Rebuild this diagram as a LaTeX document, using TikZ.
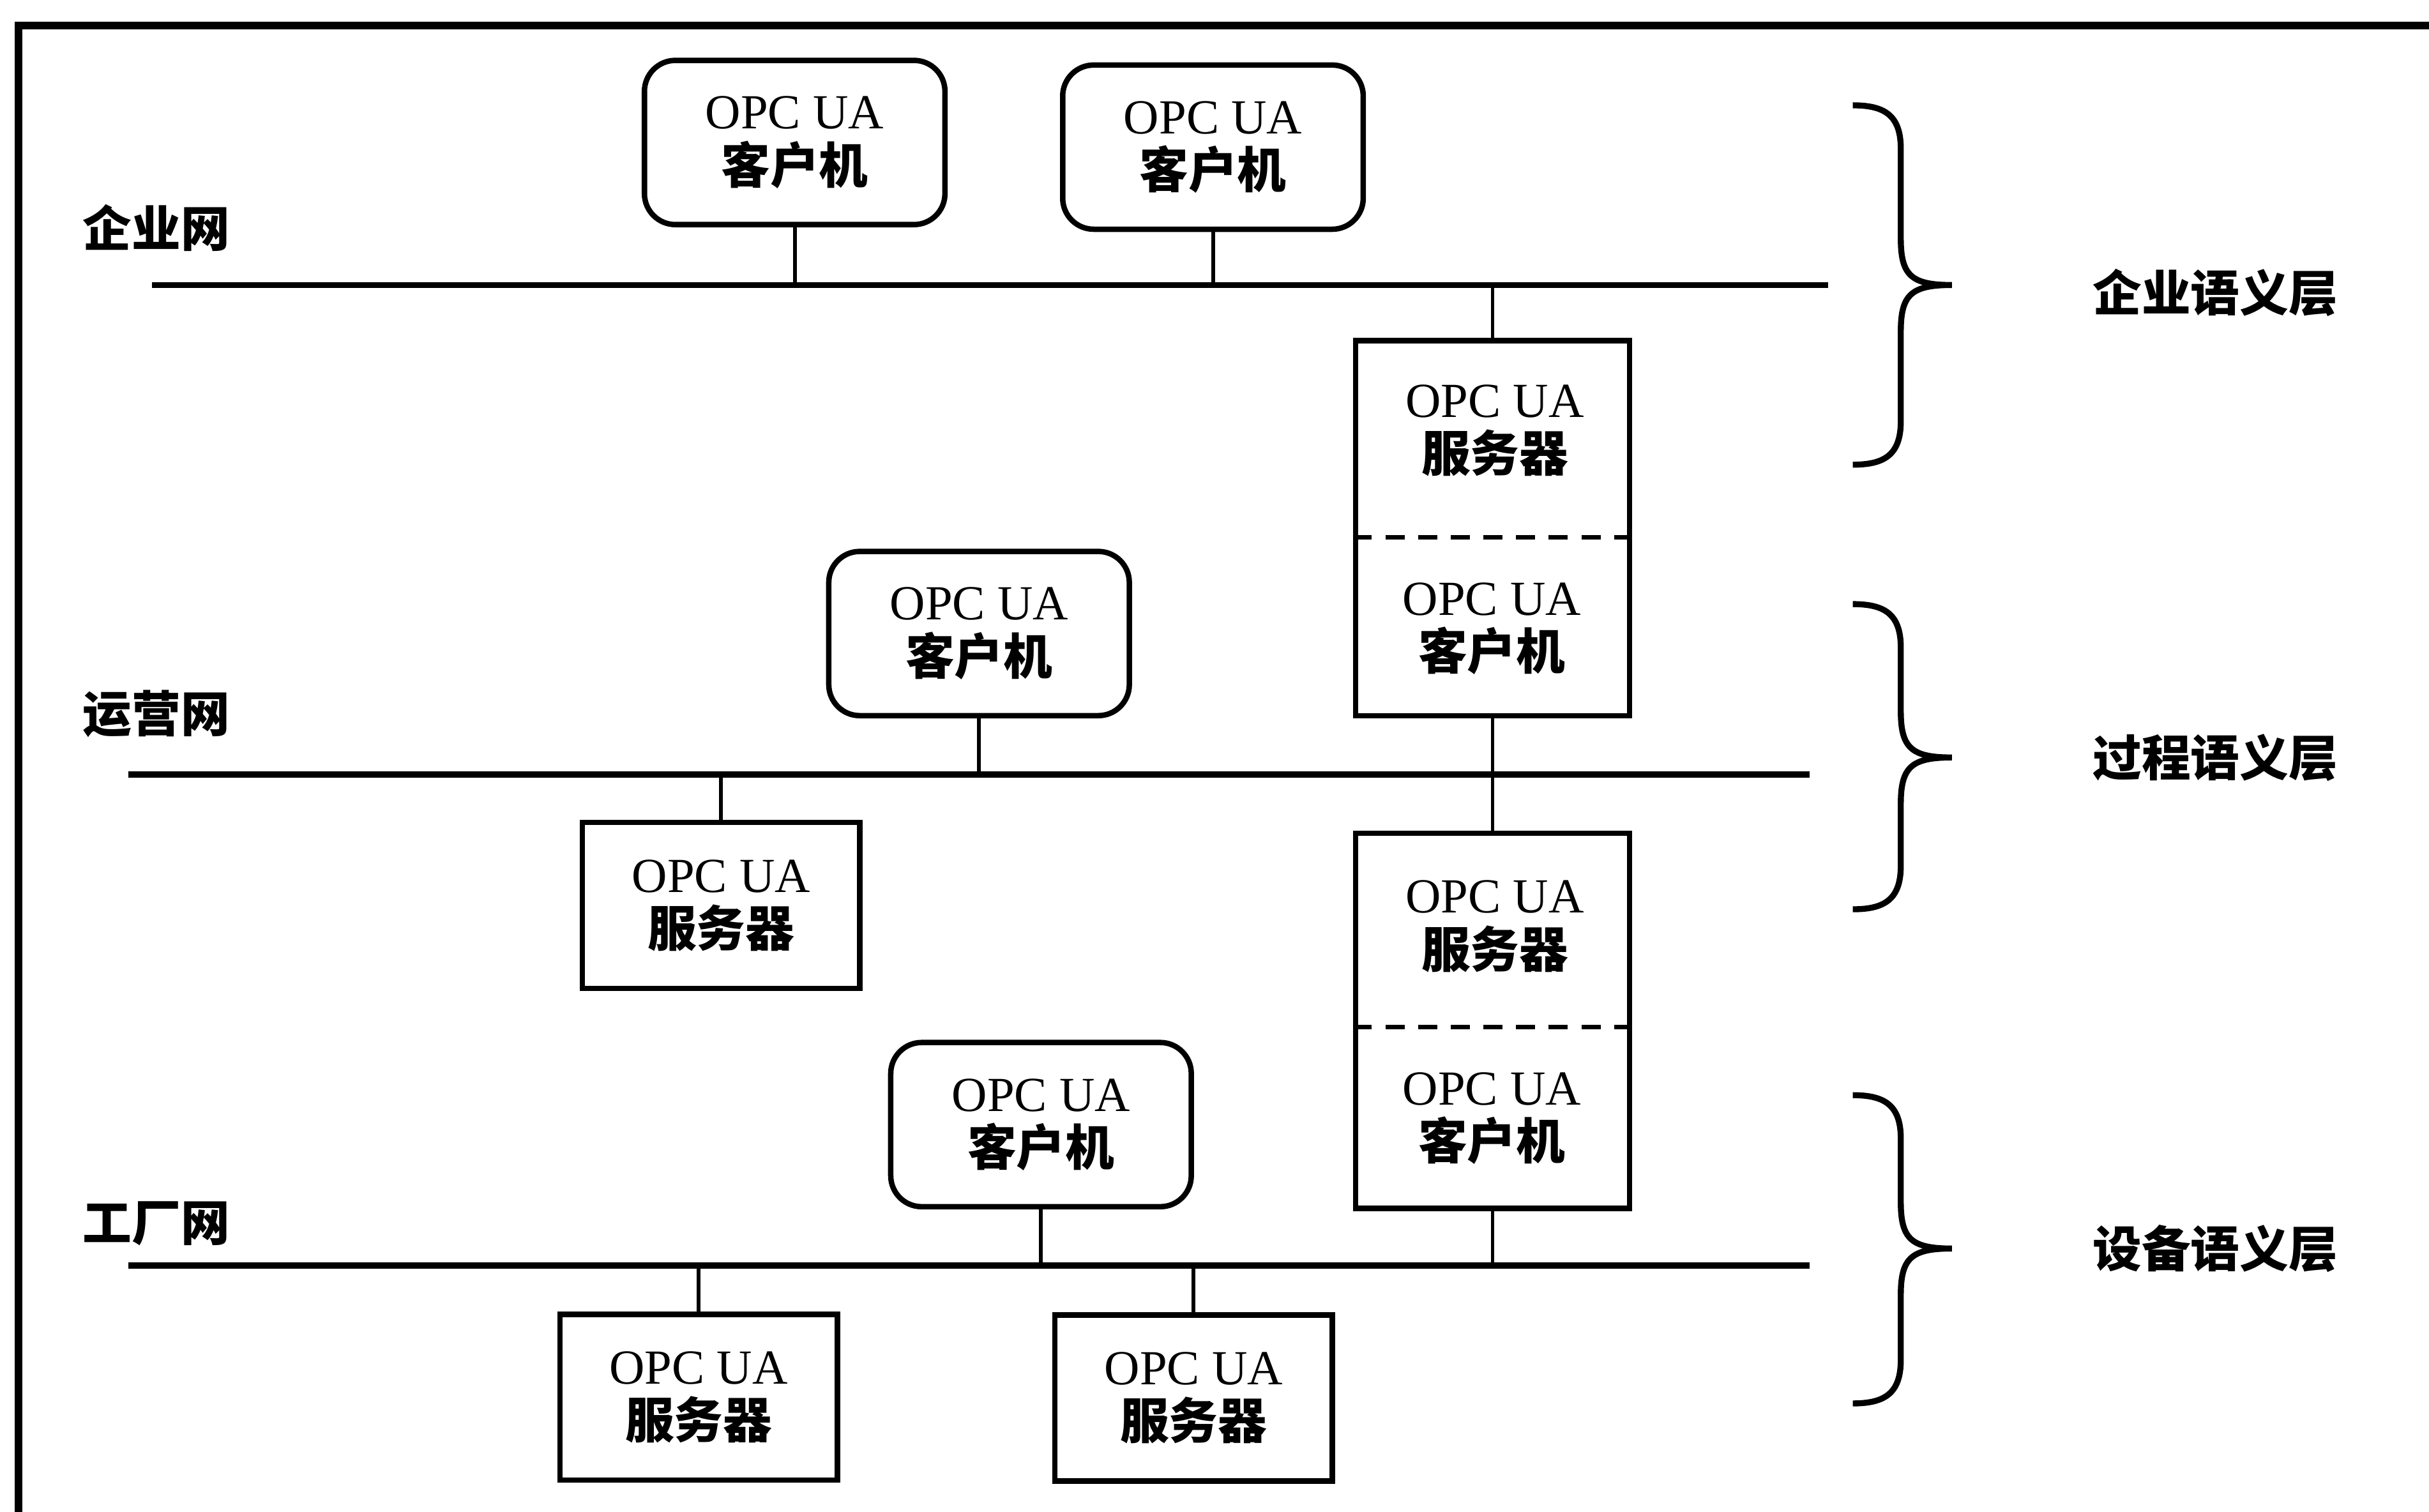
\documentclass[tikz,border=0pt]{standalone}
\usepackage{fontspec}
\setmainfont{Liberation Serif}
\newfontfamily\cjk{Noto Sans CJK SC}
\usepackage{tikz}
\usetikzlibrary{positioning, calc}

\newcommand{\opcua}[1]{OPC UA\\{\cjk\bfseries #1}}
% brace: top y, middle y, bottom y
\newcommand{\layerbrace}[3]{%
  \draw[lbrace] (11.96,#1) .. controls (12.16,#1) and (12.27,#1-0.06) .. (12.27,#1-0.28)
    -- (12.27,#2+0.30) .. controls (12.27,#2+0.06) and (12.34,#2) .. (12.60,#2)
    .. controls (12.34,#2) and (12.27,#2-0.06) .. (12.27,#2-0.30)
    -- (12.27,#3+0.28) .. controls (12.27,#3+0.06) and (12.16,#3) .. (11.96,#3);}

\tikzset{
  txt/.style={align=center, font=\fontsize{9}{10}\selectfont, inner sep=0pt},
  client/.style={txt, draw, line width=1pt, rounded corners=2mm,
                 minimum width=1.94cm, minimum height=1.06cm},
  server/.style={txt, draw, line width=1pt,
                 minimum width=1.79cm, minimum height=1.07cm},
  gw/.style={draw, line width=1pt, minimum width=1.77cm, minimum height=2.42cm},
  bus/.style={line width=1.1pt},
  link/.style={line width=0.7pt},
  sep/.style={line width=0.8pt, dash pattern=on 3.5pt off 2.5pt},
  netlbl/.style={font=\fontsize{9}{10}\selectfont\cjk\bfseries, inner sep=0pt},
  layerlbl/.style={font=\fontsize{9}{10}\selectfont\cjk\bfseries, inner sep=0pt},
  lbrace/.style={line width=1.1pt}
}

\begin{document}
\begin{tikzpicture}

\useasboundingbox (0,0) rectangle (15.68,9.76);

%---------------- Frame ----------------%
\draw[line width=1.4pt] (0.12,0) -- (0.12,9.595) -- (15.68,9.595);

%---------------- Buses ----------------%
\coordinate (entL) at (0.98,7.92);  \coordinate (entR) at (11.80,7.92);
\coordinate (proL) at (0.83,4.76);  \coordinate (proR) at (11.68,4.76);
\coordinate (facL) at (0.83,1.59);  \coordinate (facR) at (11.68,1.59);
\draw[bus] (entL) -- (entR);
\draw[bus] (proL) -- (proR);
\draw[bus] (facL) -- (facR);

\node[netlbl] (lblEnt) at (1.01,8.29) {企业网};
\node[netlbl] (lblPro) at (1.01,5.15) {运营网};
\node[netlbl] (lblFac) at (1.01,1.86) {工厂网};

%---------------- Enterprise ----------------%
\node[client] (cE1) at (5.13,8.84) {\opcua{客户机}};
\node[client] (cE2) at (7.83,8.81) {\opcua{客户机}};
\draw[link] (cE1.south) -- (cE1.south |- entL);
\draw[link] (cE2.south) -- (cE2.south |- entL);

%---------------- Gateways ----------------%
\node[gw] (gwA) at (9.635,6.35) {};
\node[txt] (gwAsrv) at (9.65,6.98) {\opcua{服务器}};
\node[txt] (gwAcli) at (9.63,5.70) {\opcua{客户机}};
\draw[sep] ([yshift=-0.06cm]gwA.west) -- ([yshift=-0.06cm]gwA.east);

\node[gw] (gwB) at (9.635,3.17) {};
\node[txt] (gwBsrv) at (9.65,3.78) {\opcua{服务器}};
\node[txt] (gwBcli) at (9.63,2.54) {\opcua{客户机}};
\draw[sep] ([yshift=-0.04cm]gwB.west) -- ([yshift=-0.04cm]gwB.east);

\draw[link] (gwA.north) -- (gwA.north |- entR);
\draw[link] (gwA.south) -- (gwB.north);
\draw[link] (gwB.south) -- (gwB.south |- facR);

%---------------- Process ----------------%
\node[client] (cP) at (6.32,5.67) {\opcua{客户机}};
\node[server] (sP) at (4.655,3.915) {\opcua{服务器}};
\draw[link] (cP.south) -- (cP.south |- proL);
\draw[link] (sP.north) -- (sP.north |- proL);

%---------------- Factory ----------------%
\node[client] (cF) at (6.72,2.50) {\opcua{客户机}};
\node[server] (sF1) at (4.51,0.74) {\opcua{服务器}};
\node[server] (sF2) at (7.705,0.735) {\opcua{服务器}};
\draw[link] (cF.south) -- (cF.south |- facL);
\draw[link] (sF1.north) -- (sF1.north |- facL);
\draw[link] (sF2.north) -- (sF2.north |- facL);

%---------------- Layers ----------------%
\layerbrace{9.08}{7.92}{6.76}
\layerbrace{5.86}{4.87}{3.89}
\layerbrace{2.69}{1.70}{0.70}

\node[layerlbl] (layEnt) at (14.30,7.87) {企业语义层};
\node[layerlbl] (layPro) at (14.30,4.87) {过程语义层};
\node[layerlbl] (layDev) at (14.30,1.70) {设备语义层};

\end{tikzpicture}
\end{document}
